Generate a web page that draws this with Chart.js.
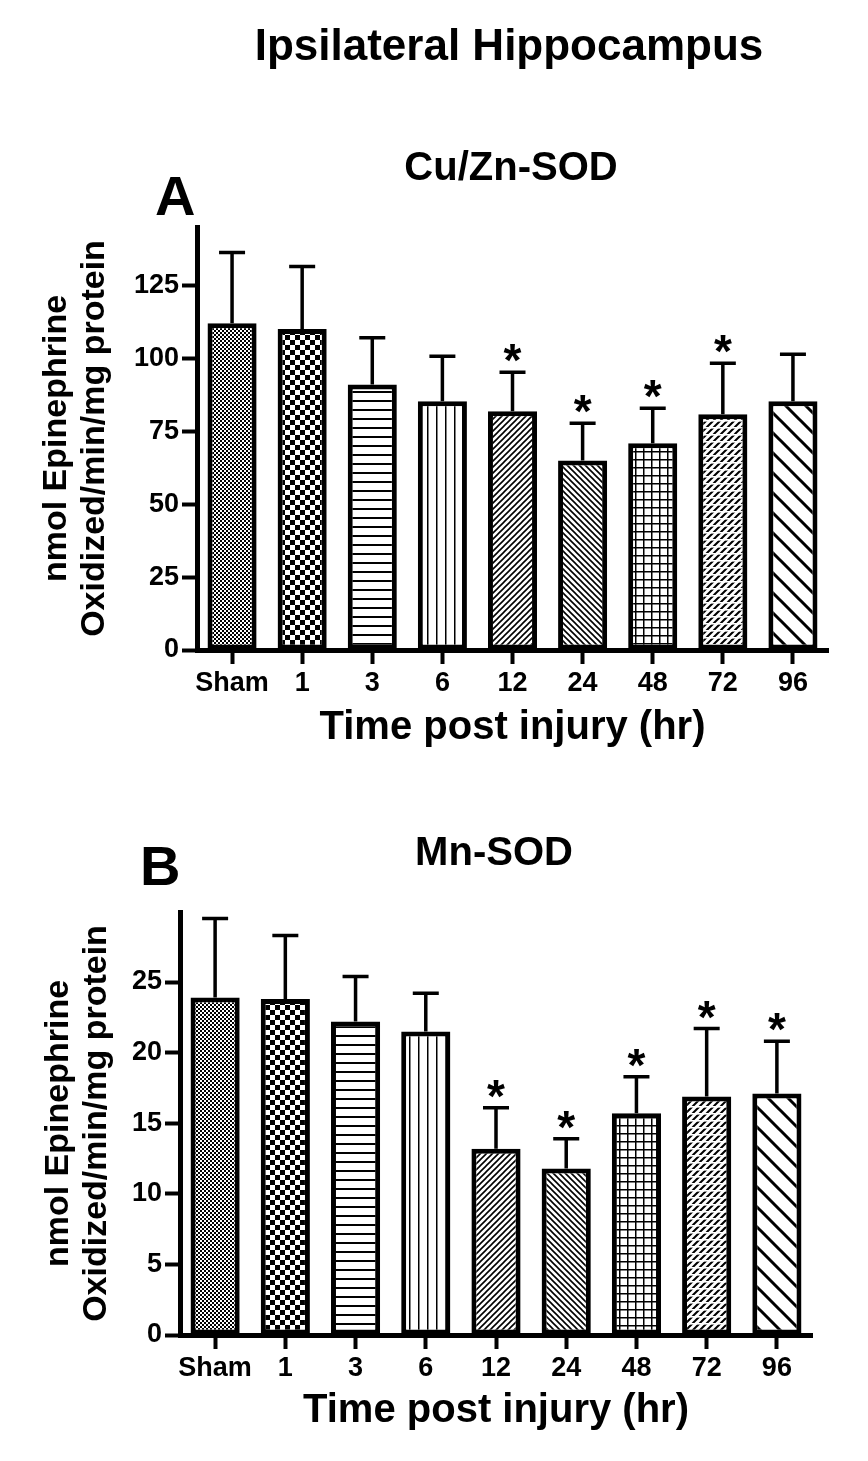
<!DOCTYPE html>
<html>
<head>
<meta charset="utf-8">
<script src="https://cdn.jsdelivr.net/npm/chart.js@4.4.0/dist/chart.umd.min.js"></script>
<style>
  html, body { margin: 0; padding: 0; background: #fff; }
  #wrap { position: relative; width: 868px; height: 1461px; }
  #chartA { position: absolute; left: 0; top: 0; }
  #chartB { position: absolute; left: 0; top: 770px; }
</style>
</head>
<body>
<div id="wrap">
  <canvas id="chartA" width="868" height="770"></canvas>
  <canvas id="chartB" width="868" height="691"></canvas>
</div>
<script>
// Data
const timeLabels = ['Sham', '1', '3', '6', '12', '24', '48', '72', '96'];

const cuznMean = [112, 110, 91, 85.3, 81.8, 65, 70.9, 80.8, 85.3];
const cuznSem  = [24.3, 21.5, 16, 15.4, 13.4, 12.7, 12, 17.5, 16.1];
const cuznSig  = [false, false, false, false, true, true, true, true, false];

const mnMean = [23.9, 23.8, 22.2, 21.5, 13.2, 11.8, 15.7, 16.9, 17.1];
const mnSem  = [5.6, 4.5, 3.2, 2.7, 2.9, 2.1, 2.6, 4.8, 3.7];
const mnSig  = [false, false, false, false, true, true, true, true, true];

const FONT = "'Liberation Sans', Arial, Helvetica, sans-serif";
Chart.defaults.font.family = FONT;
Chart.defaults.color = '#000';

// hatch fills, one per time point
function makePattern(kind) {
    const c = document.createElement('canvas');
    let s = 8;
    if (kind === 'fineCheck') s = 4;
    if (kind === 'bigCheck') s = 10;
    if (kind === 'hLines' || kind === 'vLines') s = 9;
    if (kind === 'diagUp' || kind === 'diagDown') s = 6;
    if (kind === 'grid') s = 8;
    if (kind === 'dashUp') s = 7;
    if (kind === 'wideDown') s = 20;
    c.width = s; c.height = s;
    const g = c.getContext('2d');
    g.fillStyle = '#fff';
    g.fillRect(0, 0, s, s);
    g.fillStyle = '#000';
    g.strokeStyle = '#000';
    switch (kind) {
        case 'fineCheck':
            g.fillRect(0, 0, 2, 2); g.fillRect(2, 2, 2, 2);
            break;
        case 'bigCheck':
            g.fillRect(0, 0, 5, 5); g.fillRect(5, 5, 5, 5);
            break;
        case 'hLines':
            g.fillRect(0, 4, s, 2);
            break;
        case 'vLines':
            g.fillRect(4, 0, 1.5, s);
            break;
        case 'diagUp':
            g.lineWidth = 1.6;
            g.beginPath();
            g.moveTo(0, s); g.lineTo(s, 0);
            g.moveTo(-1, 1); g.lineTo(1, -1);
            g.moveTo(s - 1, s + 1); g.lineTo(s + 1, s - 1);
            g.stroke();
            break;
        case 'diagDown':
            g.lineWidth = 1.6;
            g.beginPath();
            g.moveTo(0, 0); g.lineTo(s, s);
            g.moveTo(s - 1, -1); g.lineTo(s + 1, 1);
            g.moveTo(-1, s - 1); g.lineTo(1, s + 1);
            g.stroke();
            break;
        case 'grid':
            g.fillRect(0, 3, s, 1.5);
            g.fillRect(3, 0, 1.5, s);
            break;
        case 'dashUp':
            g.lineWidth = 2;
            g.beginPath();
            g.moveTo(0, s); g.lineTo(s, 0);
            g.moveTo(-2, 2); g.lineTo(2, -2);
            g.moveTo(s - 2, s + 2); g.lineTo(s + 2, s - 2);
            g.stroke();
            g.fillStyle = '#fff';
            g.fillRect(0, 0, s, 1.6);
            break;
        case 'wideDown':
            g.lineWidth = 3;
            g.beginPath();
            g.moveTo(0, 0); g.lineTo(s, s);
            g.moveTo(s - 3, -3); g.lineTo(s + 3, 3);
            g.moveTo(-3, s - 3); g.lineTo(3, s + 3);
            g.stroke();
            break;
    }
    return g.createPattern(c, 'repeat');
}

const fillKinds = ['fineCheck', 'bigCheck', 'hLines', 'vLines', 'diagUp', 'diagDown', 'grid', 'dashUp', 'wideDown'];

// error bars, asterisks and free text
const decor = {
    id: 'decor',
    afterDatasetsDraw(chart, args, opts) {
        const ctx = chart.ctx;
        const yScale = chart.scales.y;
        const vals = chart.data.datasets[0].data;
        const meta = chart.getDatasetMeta(0);
        ctx.save();
        ctx.strokeStyle = '#000';
        ctx.fillStyle = '#000';
        ctx.lineWidth = 3.5;
        meta.data.forEach((bar, i) => {
            const top = yScale.getPixelForValue(vals[i] + opts.sem[i]);
            ctx.beginPath();
            ctx.moveTo(bar.x, bar.y);
            ctx.lineTo(bar.x, top);
            ctx.moveTo(bar.x - 13, top);
            ctx.lineTo(bar.x + 13, top);
            ctx.stroke();
            if (opts.sig[i]) {
                ctx.font = 'bold 46px ' + FONT;
                ctx.textAlign = 'center';
                ctx.textBaseline = 'alphabetic';
                ctx.fillText('*', bar.x, top + 4);
            }
        });
        opts.texts.forEach(t => {
            ctx.font = 'bold ' + t.size + 'px ' + FONT;
            ctx.textAlign = t.align;
            ctx.textBaseline = 'alphabetic';
            ctx.fillText(t.text, t.x, t.y);
        });
        ctx.restore();
    }
};

function buildChart(id, p) {
    const canvas = document.getElementById(id);
    const ctx = canvas.getContext('2d');
    return new Chart(ctx, {
        type: 'bar',
        data: {
            labels: timeLabels,
            datasets: [{
                data: p.mean,
                backgroundColor: fillKinds.map(makePattern),
                borderColor: '#000',
                borderWidth: 5,
                borderSkipped: false,
                barPercentage: 0.7,
                categoryPercentage: 1
            }]
        },
        options: {
            responsive: false,
            animation: false,
            events: [],
            layout: { padding: p.pad },
            plugins: {
                legend: { display: false },
                tooltip: { enabled: false },
                decor: { sem: p.sem, sig: p.sig, texts: p.texts }
            },
            scales: {
                x: {
                    offset: true,
                    grid: { drawOnChartArea: false, offset: false, tickLength: 14, tickWidth: 4, tickColor: '#000' },
                    border: { color: '#000', width: 5 },
                    ticks: { color: '#000', font: { size: 27, weight: 'bold' }, padding: 3, maxRotation: 0, autoSkip: false },
                    title: {
                        display: true, text: 'Time post injury (hr)', color: '#000',
                        font: { size: 40, weight: 'bold', lineHeight: 1.1 }, padding: { top: 0, bottom: 0 }
                    },
                    afterFit: s => { s.height = p.xH; }
                },
                y: {
                    min: 0, max: p.max,
                    grid: { drawOnChartArea: false, tickLength: 15, tickWidth: 4, tickColor: '#000' },
                    border: { color: '#000', width: 5 },
                    ticks: { stepSize: p.step, includeBounds: false, color: '#000', font: { size: 27, weight: 'bold' }, padding: 3 },
                    title: {
                        display: true, text: ['nmol Epinephrine', 'Oxidized/min/mg protein'], color: '#000',
                        font: { size: 34, weight: 'bold', lineHeight: 1.12 }, padding: { top: p.yTitlePad, bottom: 0 }
                    },
                    afterFit: s => { s.width = p.yW; }
                }
            }
        },
        plugins: [decor]
    });
}

buildChart('chartA', {
    mean: cuznMean, sem: cuznSem, sig: cuznSig,
    max: 145, step: 25,
    pad: { left: 0, right: 40, top: 227, bottom: 20 },
    yW: 197, xH: 100, yTitlePad: 38,
    texts: [
        { text: 'Ipsilateral Hippocampus', x: 509, y: 60, size: 44, align: 'center' },
        { text: 'Cu/Zn-SOD', x: 511, y: 180, size: 40, align: 'center' },
        { text: 'A', x: 155, y: 215, size: 56, align: 'left' }
    ]
});

buildChart('chartB', {
    mean: mnMean, sem: mnSem, sig: mnSig,
    max: 29.96, step: 5,
    pad: { left: 0, right: 56, top: 142, bottom: 28 },
    yW: 180, xH: 98, yTitlePad: 40,
    texts: [
        { text: 'Mn-SOD', x: 494, y: 95, size: 40, align: 'center' },
        { text: 'B', x: 140, y: 115, size: 56, align: 'left' }
    ]
});
</script>
</body>
</html>
